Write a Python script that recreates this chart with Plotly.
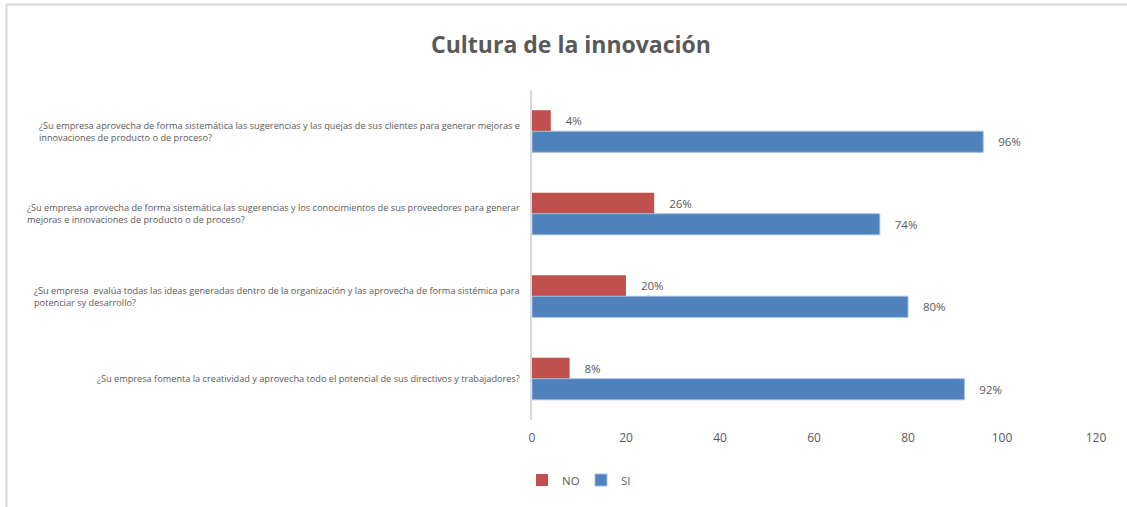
import plotly.graph_objects as go

categories = [
    "¿Su empresa aprovecha de forma sistemática las sugerencias y las quejas de sus clientes para generar mejoras e<br>innovaciones de producto o de proceso?",
    "¿Su empresa aprovecha de forma sistemática las sugerencias y los conocimientos de sus proveedores para generar<br>mejoras e innovaciones de producto o de proceso?",
    "¿Su empresa  evalúa todas las ideas generadas dentro de la organización y las aprovecha de forma sistémica para<br>potenciar sy desarrollo?",
    "¿Su empresa fomenta la creatividad y aprovecha todo el potencial de sus directivos y trabajadores?",
]
no_values = [4, 26, 20, 8]
si_values = [96, 74, 80, 92]
x_ticks = [0, 20, 40, 60, 80, 100, 120]

FONT = "Open Sans"
GRAY = "#595959"
PAD = "\u00a0" * 4

W, H = 1127, 507
L, R, T, B = 532, 31, 90, 87
PW, PH = W - L - R, H - T - B

fig = go.Figure()
fig.add_trace(go.Bar(
    name="NO", y=categories, x=no_values, orientation="h",
    marker=dict(color="#c0504d", line=dict(width=0)),
    text=[f"{PAD}{v}%" for v in no_values], textposition="outside",
    textfont=dict(family=FONT, size=11.5, color=GRAY), cliponaxis=False,
))
fig.add_trace(go.Bar(
    name="SI", y=categories, x=si_values, orientation="h",
    marker=dict(color="#4f81bd", line=dict(color="#9dbbe0", width=1)),
    text=[f"{PAD}{v}%" for v in si_values], textposition="outside",
    textfont=dict(family=FONT, size=11.5, color=GRAY), cliponaxis=False,
))

# category labels, left-aligned block ending just left of the axis
for c in categories:
    fig.add_annotation(
        text=c, xref="paper", x=-10 / PW, xanchor="right", align="left",
        yref="y", y=c, yanchor="middle", showarrow=False,
        font=dict(family=FONT, size=9.2, color=GRAY),
    )

fig.update_layout(
    template="none",
    width=W, height=H,
    margin=dict(l=L, r=R, t=T, b=B, pad=0),
    paper_bgcolor="white", plot_bgcolor="white",
    barmode="group", bargap=0.49, bargroupgap=0,
    title=dict(text="<b>Cultura de la innovación</b>", x=571 / W, xanchor="center",
               y=1 - 45 / H, yanchor="middle", yref="container",
               font=dict(family=FONT, size=23, color=GRAY)),
    font=dict(family=FONT, color=GRAY),
    xaxis=dict(range=[0, 120], tickvals=x_ticks, showgrid=False, zeroline=False,
               showline=False, tickfont=dict(family=FONT, size=12, color=GRAY),
               ticks="", ticklabelstandoff=9, automargin=False),
    yaxis=dict(autorange="reversed", showgrid=False, zeroline=False,
               showline=True, linecolor="#d9d9d9", linewidth=2,
               showticklabels=False, ticks="", automargin=False),
    legend=dict(orientation="h", x=(522 - L) / PW, xanchor="left",
                yref="container", y=1 - 480 / H, yanchor="middle",
                font=dict(family=FONT, size=11.5, color=GRAY),
                itemwidth=30, entrywidth=14, traceorder="normal",
                tracegroupgap=0, itemclick=False),
    showlegend=True,
)

# chart frame (top and left edges like the reference)
fig.add_shape(type="line", xref="paper", yref="paper",
              x0=(6 - L) / PW, x1=(W + 5 - L) / PW,
              y0=1 + (T - 4.5) / PH, y1=1 + (T - 4.5) / PH,
              line=dict(color="#d9d9d9", width=2))
fig.add_shape(type="line", xref="paper", yref="paper",
              x0=(6.5 - L) / PW, x1=(6.5 - L) / PW,
              y0=1 + (T - 4.5) / PH, y1=-(B + 5) / PH,
              line=dict(color="#d9d9d9", width=2))

fig.write_html("out.html", config={"displayModeBar": False},
               post_script="document.body.style.margin='0';")
